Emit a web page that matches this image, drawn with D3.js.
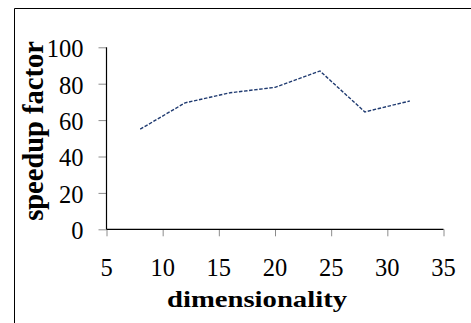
<!DOCTYPE html>
<html>
<head>
<meta charset="utf-8">
<script src="https://cdn.jsdelivr.net/npm/d3@7"></script>
<style>
  html, body { margin: 0; padding: 0; background: #fff; }
  svg { display: block; }
</style>
</head>
<body>
<div id="chart"></div>
<script>
// Speedup factor measured at each dimensionality
const dimensionality = [8, 12, 16, 20, 24, 28, 32];
const speedup = [55, 69.5, 75, 78, 87, 64.5, 70.5];
const xTicks = [5, 10, 15, 20, 25, 30, 35];
const yTicks = [0, 20, 40, 60, 80, 100];
const xTitle = "dimensionality";
const yTitle = "speedup factor";

const W = 471, H = 323;
const plot = { left: 106.5, right: 443.5, top: 47.3, bottom: 229.3 };
const serif = "'Liberation Serif', 'Times New Roman', Times, serif";

const svg = d3.select("#chart").append("svg")
  .attr("width", W).attr("height", H);

// chart-area frame (top and left edges in view)
svg.append("path")
  .attr("d", `M14.5,${H} V8.5 H${W}`)
  .attr("fill", "none").attr("stroke", "#000").attr("stroke-width", 1);

const x = d3.scaleLinear().domain([5, 35]).range([plot.left, plot.right]);
const y = d3.scaleLinear().domain([0, 100]).range([plot.bottom, plot.top]);

const tickColor = "#8c8c8c";

// y axis tick marks
const gy = svg.append("g").attr("transform", `translate(${plot.left},0)`)
  .call(d3.axisLeft(y).tickValues(yTicks).tickSize(8).tickFormat(""));
gy.select(".domain").remove();
gy.selectAll(".tick line").attr("stroke", tickColor);

// y tick labels
svg.append("g").selectAll("text")
  .data(yTicks)
  .join("text")
  .attr("font-family", serif)
  .attr("font-size", 24.5)
  .attr("text-anchor", "end")
  .attr("x", plot.left - 23)
  .attr("y", d => y(d) + 9.8)
  .text(d => d);

// x axis tick marks
const gx = svg.append("g").attr("transform", `translate(0,${plot.bottom})`)
  .call(d3.axisBottom(x).tickValues(xTicks).tickSize(7).tickFormat(""));
gx.select(".domain").remove();
gx.selectAll(".tick line").attr("stroke", tickColor);

// x tick labels
svg.append("g").selectAll("text")
  .data(xTicks)
  .join("text")
  .attr("font-family", serif)
  .attr("font-size", 24.5)
  .attr("text-anchor", "middle")
  .attr("x", d => x(d))
  .attr("y", plot.bottom + 47)
  .text(d => d);

// axis lines
svg.append("line")
  .attr("x1", plot.left).attr("x2", plot.left)
  .attr("y1", plot.top).attr("y2", plot.bottom)
  .attr("stroke", "#000").attr("stroke-width", 1.2);
svg.append("line")
  .attr("x1", plot.left).attr("x2", plot.right)
  .attr("y1", plot.bottom).attr("y2", plot.bottom)
  .attr("stroke", "#000").attr("stroke-width", 1.2);

// data line
const line = d3.line().x((d, i) => x(dimensionality[i])).y(d => y(d));
svg.append("path")
  .datum(speedup)
  .attr("d", line)
  .attr("fill", "none")
  .attr("stroke", "#1f3a70")
  .attr("stroke-width", 1.4)
  .attr("stroke-dasharray", "3.5,1.6");

// axis titles
svg.append("text")
  .attr("font-family", serif)
  .attr("font-weight", "bold").attr("font-size", 24)
  .attr("text-anchor", "middle")
  .attr("transform", `translate(257,307.3) scale(1.195,1)`)
  .text(xTitle);

svg.append("text")
  .attr("font-family", serif)
  .attr("font-weight", "bold").attr("font-size", 28.5)
  .attr("text-anchor", "middle")
  .attr("transform", `translate(42.5,131) rotate(-90)`)
  .text(yTitle);
</script>
</body>
</html>
